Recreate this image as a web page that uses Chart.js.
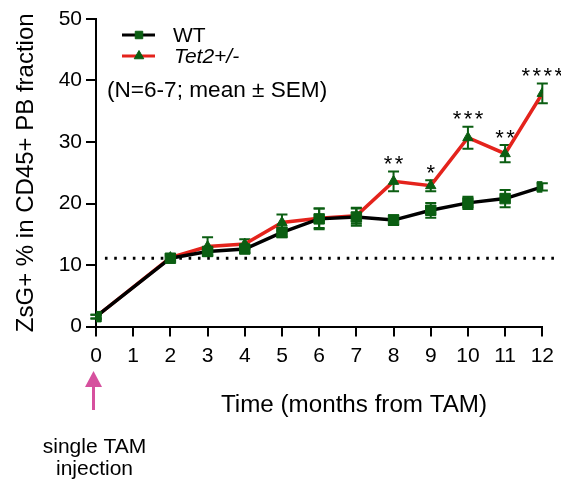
<!DOCTYPE html>
<html>
<head>
<meta charset="utf-8">
<script src="https://cdn.jsdelivr.net/npm/chart.js@4"></script>
<style>
  html, body { margin: 0; padding: 0; background: #fff; }
  canvas { display: block; }
</style>
</head>
<body>
<canvas id="lineChart" width="561" height="481"></canvas>
<script>
// months after TAM (no sample at month 1)
var months = [0, 2, 3, 4, 5, 6, 7, 8, 9, 10, 11, 12];
var xTicks = [0, 1, 2, 3, 4, 5, 6, 7, 8, 9, 10, 11, 12];
var yTicks = [0, 10, 20, 30, 40, 50];

// ZsG+ % in CD45+ PB, mean and SEM
var wtMean = [1.6, 11.1, 12.2, 12.6, 15.3, 17.5, 17.8, 17.3, 18.9, 20.1, 20.8, 22.7];
var wtSem = [0.3, 0.4, 0.6, 0.6, 0.8, 1.7, 1.4, 0.8, 1.2, 1.0, 1.4, 0.6];
var tetMean = [1.6, 11.2, 13.0, 13.4, 16.9, 17.6, 18.0, 23.6, 22.9, 30.7, 28.1, 37.9];
var tetSem = [0.3, 0.5, 1.5, 0.8, 1.3, 1.6, 1.3, 1.6, 0.9, 1.8, 1.4, 1.6];
var sigMarks = ['', '', '', '', '', '', '', '**', '*', '***', '**', '****'];

// dotted reference level
var refLevel = 11.1;
var refSpan = [0.24, 12.38];

var FONT = '"Liberation Sans", Arial, Helvetica, sans-serif';
var GREEN = '#0b5e12';
var RED = '#e4231c';

function pts(xs, ys) {
  return xs.map(function (x, i) { return { x: x, y: ys[i] }; });
}

// SEM whiskers under the markers
var errorBars = {
  id: 'errorBars',
  beforeDatasetsDraw: function (chart) {
    var ctx = chart.ctx;
    var xs = chart.scales.x, ys = chart.scales.y;
    var groups = [[tetMean, tetSem], [wtMean, wtSem]];
    ctx.save();
    ctx.strokeStyle = GREEN;
    ctx.lineWidth = 2;
    groups.forEach(function (g) {
      months.forEach(function (m, i) {
        var x = xs.getPixelForValue(m);
        var top = ys.getPixelForValue(g[0][i] + g[1][i]);
        var bot = ys.getPixelForValue(g[0][i] - g[1][i]);
        ctx.beginPath();
        ctx.moveTo(x, top); ctx.lineTo(x, bot);
        ctx.moveTo(x - 5.5, top); ctx.lineTo(x + 5.5, top);
        ctx.moveTo(x - 5.5, bot); ctx.lineTo(x + 5.5, bot);
        ctx.stroke();
      });
    });
    ctx.restore();
  }
};

// stars, legend, notes and the injection arrow
var extras = {
  id: 'extras',
  afterDraw: function (chart) {
    var ctx = chart.ctx;
    var xs = chart.scales.x, ys = chart.scales.y;
    ctx.save();

    // significance stars above the Tet2 whiskers
    ctx.fillStyle = '#000';
    ctx.font = '22px ' + FONT;
    ctx.textAlign = 'center';
    ctx.textBaseline = 'alphabetic';
    months.forEach(function (m, i) {
      var s = sigMarks[i];
      if (!s) return;
      var cx = xs.getPixelForValue(m);
      var cy = ys.getPixelForValue(tetMean[i] + tetSem[i]) - 13;
      for (var k = 0; k < s.length; k++) {
        var sx = cx + (k - (s.length - 1) / 2) * 11;
        ctx.fillText('*', sx, cy + 12.8);
      }
    });

    // legend
    var items = [
      { y: 35, color: '#000', style: 'rect', r: 5.3, text: 'WT', font: '21px ' + FONT, base: 41.7, tx: 173 },
      { y: 56, color: RED, style: 'triangle', r: 5.5, text: 'Tet2+/-', font: 'italic 21px ' + FONT, base: 63.3, tx: 174 }
    ];
    items.forEach(function (it) {
      ctx.strokeStyle = it.color;
      ctx.lineWidth = 3;
      ctx.beginPath();
      ctx.moveTo(122, it.y); ctx.lineTo(155, it.y);
      ctx.stroke();
      ctx.fillStyle = GREEN;
      ctx.strokeStyle = GREEN;
      ctx.lineWidth = 1;
      Chart.helpers.drawPoint(ctx, { pointStyle: it.style, radius: it.r, rotation: 0, borderWidth: 1 }, 139, it.y);
      ctx.fillStyle = '#000';
      ctx.font = it.font;
      ctx.textAlign = 'left';
      ctx.fillText(it.text, it.tx, it.base);
    });

    ctx.font = '22.6px ' + FONT;
    ctx.fillText('(N=6-7; mean \u00b1 SEM)', 107, 97);

    // x axis title
    ctx.font = '24.2px ' + FONT;
    ctx.textAlign = 'center';
    ctx.fillText('Time (months from TAM)', 354, 411.5);

    // injection arrow under month 0
    var ax = xs.getPixelForValue(0) - 2.5;
    ctx.fillStyle = '#d6509e';
    ctx.strokeStyle = '#d6509e';
    ctx.lineWidth = 3;
    ctx.beginPath();
    ctx.moveTo(ax, 385); ctx.lineTo(ax, 410);
    ctx.stroke();
    ctx.beginPath();
    ctx.moveTo(ax, 371); ctx.lineTo(ax + 8.5, 387); ctx.lineTo(ax - 8.5, 387);
    ctx.closePath();
    ctx.fill();

    ctx.fillStyle = '#000';
    ctx.font = '21px ' + FONT;
    ctx.fillText('single TAM', ax + 1, 452.5);
    ctx.fillText('injection', ax + 1, 475);

    ctx.restore();
  }
};

var config = {
  type: 'line',
  data: {
    datasets: [
      {
        label: 'WT',
        data: pts(months, wtMean),
        borderColor: '#000',
        borderWidth: 3.5,
        pointStyle: 'rect',
        pointRadius: 7.4,
        pointBackgroundColor: GREEN,
        pointBorderColor: GREEN,
        pointBorderWidth: 1,
        tension: 0,
        order: 0
      },
      {
        label: 'Tet2+/-',
        data: pts(months, tetMean),
        borderColor: RED,
        borderWidth: 3.5,
        pointStyle: 'triangle',
        pointRadius: 6,
        pointBackgroundColor: GREEN,
        pointBorderColor: GREEN,
        pointBorderWidth: 1,
        tension: 0,
        order: 1
      },
      {
        label: 'threshold',
        data: refSpan.map(function (x) { return { x: x, y: refLevel }; }),
        borderColor: '#000',
        borderWidth: 3,
        borderDash: [2.6, 6.7],
        pointRadius: 0,
        clip: false,
        order: 2
      }
    ]
  },
  options: {
    responsive: false,
    animation: false,
    devicePixelRatio: 1,
    layout: { padding: { top: 19, right: 18, bottom: 0, left: 0 } },
    plugins: {
      legend: { display: false },
      tooltip: { enabled: false }
    },
    scales: {
      x: {
        type: 'linear',
        min: 0,
        max: 12,
        afterBuildTicks: function (scale) {
          scale.ticks = xTicks.map(function (v) { return { value: v }; });
        },
        afterFit: function (scale) { scale.height = 154.5; },
        grid: { drawOnChartArea: false, drawTicks: true, tickLength: 10, lineWidth: 2, color: '#000' },
        border: { display: true, color: '#000', width: 2 },
        ticks: { color: '#000', font: { family: FONT, size: 21 }, padding: 7, maxRotation: 0, autoSkip: false }
      },
      y: {
        min: 0,
        max: 50,
        afterBuildTicks: function (scale) {
          scale.ticks = yTicks.map(function (v) { return { value: v }; });
        },
        afterFit: function (scale) { scale.width = 96; },
        grid: { drawOnChartArea: false, drawTicks: true, tickLength: 10, lineWidth: 2, color: '#000' },
        border: { display: true, color: '#000', width: 2 },
        ticks: { color: '#000', font: { family: FONT, size: 21 }, padding: 4 },
        title: {
          display: true,
          text: 'ZsG+ % in CD45+ PB fraction',
          color: '#000',
          font: { family: FONT, size: 24 },
          padding: { top: 12.3, bottom: 0 }
        }
      }
    }
  },
  plugins: [errorBars, extras]
};

new Chart(document.getElementById('lineChart').getContext('2d'), config);
</script>
</body>
</html>
